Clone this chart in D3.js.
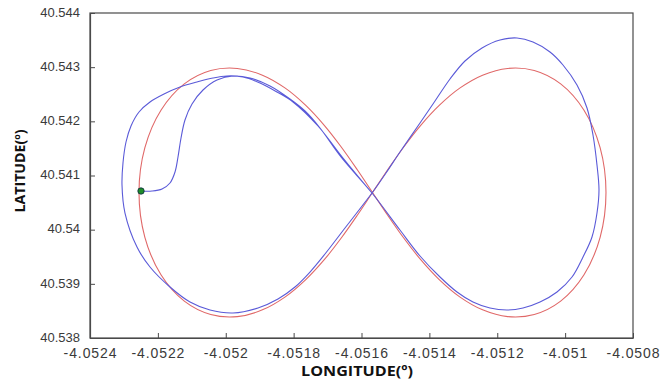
<!DOCTYPE html>
<html>
<head>
<meta charset="utf-8">
<script src="https://cdn.jsdelivr.net/npm/d3@7"></script>
<style>
  html, body { margin: 0; padding: 0; background: #fff; }
  svg { display: block; }
</style>
</head>
<body>
<svg id="chart" width="663" height="379"></svg>
<script>
// Reference trajectory (red)
const refLon = [-4.0508796,-4.0508969,-4.0509448,-4.0510131,-4.0510909,-4.0511693,-4.0512433,-4.0513106,-4.051371,
  -4.0514255,-4.0514755,-4.0515223,-4.0515676,-4.0516129,-4.0516597,-4.0517097,-4.0517642,-4.0518246,-4.0518919,
  -4.0519659,-4.0520443,-4.0521221,-4.0521904,-4.0522383,-4.0522556,-4.0522383,-4.0521904,-4.0521221,-4.0520443,
  -4.0519659,-4.0518919,-4.0518246,-4.0517642,-4.0517097,-4.0516597,-4.0516129,-4.0515676,-4.0515223,-4.0514755,
  -4.0514255,-4.051371,-4.0513106,-4.0512433,-4.0511693,-4.0510909,-4.0510131,-4.0509448,-4.0508969];
const refLat = [40.540686,40.541513,40.542209,40.5426906,40.5429376,40.5429766,40.5428525,40.5426126,40.5422941,
  40.5419262,40.5415265,40.5411105,40.540686,40.5402615,40.5398455,40.5394458,40.5390779,40.5387594,40.5385195,
  40.5383954,40.5384344,40.5386814,40.539163,40.539859,40.540686,40.541513,40.542209,40.5426906,40.5429376,
  40.5429766,40.5428525,40.5426126,40.5422941,40.5419262,40.5415265,40.5411105,40.540686,40.5402615,40.5398455,
  40.5394458,40.5390779,40.5387594,40.5385195,40.5383954,40.5384344,40.5386814,40.539163,40.539859];

const actLon = [-4.0522497,-4.0522173,-4.0521878,-4.0521643,-4.0521495,-4.0521407,-4.0521318,-4.0521201,-4.0520994,
  -4.052067,-4.0520258,-4.0519786,-4.0519285,-4.0518696,-4.0518107,-4.0517665,-4.0517223,-4.0516604,-4.0515691,
  -4.0514866,-4.0514276,-4.0513687,-4.0513186,-4.0512715,-4.0512214,-4.0511713,-4.0511241,-4.051074,-4.0510239,
  -4.0509797,-4.0509473,-4.0509208,-4.0509061,-4.0509002,-4.0509061,-4.0509179,-4.0509355,-4.050965,-4.0510063,
  -4.0510446,-4.0510947,-4.0511418,-4.0511919,-4.0512449,-4.0512951,-4.0513392,-4.0513834,-4.0514276,-4.0514866,
  -4.0515278,-4.0515691,-4.0516486,-4.0517076,-4.0517518,-4.0517960,-4.0518461,-4.0519050,-4.0519786,-4.0520464,
  -4.0521053,-4.0521643,-4.0522232,-4.0522615,-4.0522969,-4.0523057,-4.0523028,-4.0522939,-4.0522792,-4.0522556,
  -4.0522232,-4.0521819,-4.0521348,-4.0520847,-4.0520376,-4.0519963,-4.0519492,-4.0518991,-4.051849,-4.0518018,
  -4.0517282,-4.0516545,-4.0515691];
const actLat = [40.5407138,40.5407138,40.5407507,40.5408614,40.5410646,40.5413415,40.5416923,40.5420246,40.5423200,
  40.5425784,40.542763,40.5428369,40.5428,40.5426523,40.5424123,40.5421907,40.5418769,40.5413415,40.5406768,
  40.5399937,40.5395137,40.539126,40.5388491,40.5386645,40.5385537,40.5385168,40.5385537,40.5386645,40.5388491,
  40.539126,40.5394953,40.5398645,40.5403076,40.5407322,40.5411938,40.5417476,40.5422461,40.5426707,40.54304,
  40.54328,40.5434646,40.5435385,40.5435015,40.5433538,40.5431138,40.5427815,40.5423753,40.5419692,40.5414338,
  40.5410461,40.5406768,40.5400307,40.5395506,40.5392183,40.5389414,40.5387199,40.5385537,40.5384614,40.5385168,
  40.5386645,40.5389414,40.5393107,40.5396799,40.5403076,40.5408245,40.5412307,40.5416184,40.5419138,40.5421722,
  40.5423569,40.5425045,40.5426338,40.5427261,40.5428,40.5428369,40.5428184,40.5427077,40.5425415,40.5423569,
  40.5419138,40.541323,40.5406768];

// Start marker
const startLon = [-4.0522497];
const startLat = [40.5407138];

// Ticks
const xTickValues = [-4.0524,-4.0522,-4.0520,-4.0518,-4.0516,-4.0514,-4.0512,-4.0510,-4.0508];
const xTickLabels = ["-4.0524","-4.0522","-4.052","-4.0518","-4.0516","-4.0514","-4.0512","-4.051","-4.0508"];
const yTickValues = [40.538,40.539,40.540,40.541,40.542,40.543,40.544];
const yTickLabels = ["40.538","40.539","40.54","40.541","40.542","40.543","40.544"];

const W = 663, H = 379;
const m = {left: 90, right: 30, top: 13, bottom: 41};
const svg = d3.select("#chart");

const x = d3.scaleLinear().domain([-4.0524, -4.0508]).range([m.left, W - m.right]);
const y = d3.scaleLinear().domain([40.538, 40.544]).range([H - m.bottom, m.top]);

const axisColor = "#4a4a4a";
const fontFam = "'Liberation Sans', Arial, sans-serif";

const line = d3.line().x(d => x(d[0])).y(d => y(d[1]));
const refPts = refLon.map((v, i) => [v, refLat[i]]);
const actPts = actLon.map((v, i) => [v, actLat[i]]);

svg.append("path")
  .attr("d", line.curve(d3.curveCatmullRomClosed.alpha(0.5))(refPts))
  .attr("fill", "none").attr("stroke", "#e06868").attr("stroke-width", 1.1);

svg.append("path")
  .attr("d", line.curve(d3.curveCatmullRom.alpha(0.5))(actPts))
  .attr("fill", "none").attr("stroke", "#5a5ad8").attr("stroke-width", 1.1);

svg.selectAll("circle.start").data(startLon).join("circle")
  .attr("class", "start")
  .attr("cx", d => x(d)).attr("cy", (d, i) => y(startLat[i]))
  .attr("r", 3.2).attr("fill", "#1e8c2a").attr("stroke", "#0a2a40").attr("stroke-width", 0.8);

// Box
svg.append("rect")
  .attr("x", m.left).attr("y", m.top)
  .attr("width", W - m.left - m.right).attr("height", H - m.top - m.bottom)
  .attr("fill", "none").attr("stroke", axisColor).attr("stroke-width", 1.2);

// Axes
const xAxis = d3.axisBottom(x).tickValues(xTickValues)
  .tickFormat((d, i) => xTickLabels[i]).tickSizeInner(-5).tickSizeOuter(0).tickPadding(10);
const gx = svg.append("g").attr("transform", `translate(0,${H - m.bottom})`).call(xAxis);
gx.select(".domain").attr("stroke", axisColor).attr("stroke-width", 1.2);
gx.selectAll(".tick line").attr("stroke", axisColor);
gx.selectAll(".tick text").attr("fill", "#3a3a3a").style("font-family", fontFam)
  .style("font-size", "14px").style("letter-spacing", "0.9px");

const yAxis = d3.axisLeft(y).tickValues(yTickValues)
  .tickFormat((d, i) => yTickLabels[i]).tickSizeInner(-5).tickSizeOuter(0).tickPadding(10);
const gy = svg.append("g").attr("transform", `translate(${m.left},0)`).call(yAxis);
gy.select(".domain").attr("stroke", axisColor).attr("stroke-width", 1.2);
gy.selectAll(".tick line").attr("stroke", axisColor);
gy.selectAll(".tick text").attr("fill", "#3a3a3a").style("font-family", fontFam).style("font-size", "13px")
  .attr("dy", "0.25em");

// Axis titles
svg.append("text")
  .attr("x", 357).attr("y", 376)
  .attr("text-anchor", "middle")
  .attr("textLength", 112).attr("lengthAdjust", "spacingAndGlyphs")
  .style("font-family", "'Open Sans', sans-serif").style("font-weight", "bold").style("font-size", "15px")
  .attr("fill", "#111")
  .text("LONGITUDE(º)");

svg.append("text")
  .attr("transform", "translate(25,171) rotate(-90)")
  .attr("text-anchor", "middle")
  .attr("textLength", 83).attr("lengthAdjust", "spacingAndGlyphs")
  .style("font-family", "'Open Sans', sans-serif").style("font-weight", "bold").style("font-size", "13.5px")
  .attr("fill", "#111")
  .text("LATITUDE(º)");
</script>
</body>
</html>
